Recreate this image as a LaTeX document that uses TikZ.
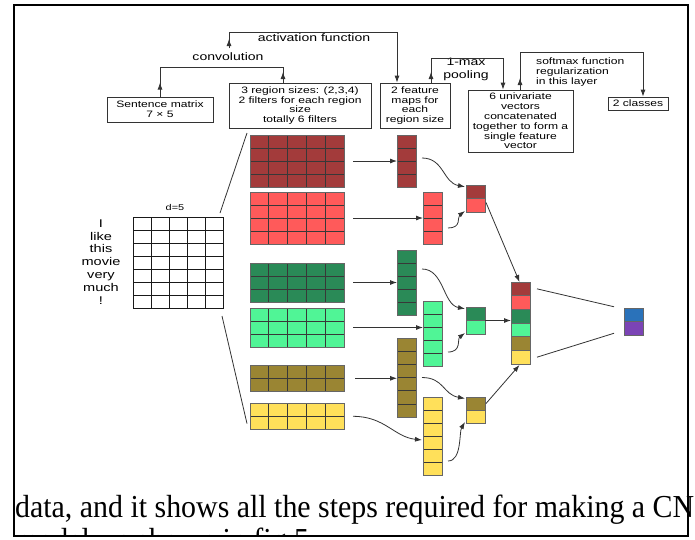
\documentclass[tikz,border=0pt]{standalone}
\usepackage{fontspec}
\usepackage{graphicx}
\usetikzlibrary{arrows.meta,calc}
\newfontfamily\labfont{Liberation Sans}[FakeStretch=1.3]
\newfontfamily\bodyfont{Liberation Serif}
\definecolor{cdred}{HTML}{A33B3B}
\definecolor{clred}{HTML}{FF5A5A}
\definecolor{cdgreen}{HTML}{2A8A57}
\definecolor{clgreen}{HTML}{50F596}
\definecolor{colive}{HTML}{9A8533}
\definecolor{cyellow}{HTML}{FFE05A}
\definecolor{cblue}{HTML}{2A72BA}
\definecolor{cpurple}{HTML}{7B44B5}
\tikzset{
  ln/.style={draw=black!80, line width=0.8pt},
  arr/.style={ln, -{Latex[length=7pt,width=5pt]}},
  labbox/.style={draw=black!80, line width=0.8pt, fill=white, align=center,
    inner sep=1pt, font={\labfont\fontsize{9.3}{9.8}\selectfont}},
  bigtext/.style={inner sep=0pt, align=center, font={\labfont\fontsize{10.8}{13}\selectfont}},
  smalltext/.style={inner sep=0pt, font={\labfont\fontsize{9.3}{10}\selectfont}},
  cellline/.style={draw=black!78, line width=0.7pt},
  blockedge/.style={draw=black!60, line width=0.8pt},
}
% a block of cols x rows cells: name, left, top, cols, rows, cell width, cell height, fill
\newcommand\cellblock[8]{%
  \node[anchor=north west, inner sep=0pt, outer sep=0pt, fill=#8,
        minimum width=#4*#6pt, minimum height=#5*#7pt] (#1) at (#2,#3) {};
  \foreach \cc in {1,...,#4}{\foreach \rr in {1,...,#5}{%
    \draw[cellline] ({#2+(\cc-1)*#6},{#3+(\rr-1)*#7}) rectangle ++(#6,#7);}}
  \draw[blockedge] (#1.north west) rectangle (#1.south east);
}
\begin{document}
\begin{tikzpicture}[x=1pt,y=-1pt]
\useasboundingbox (0,0) rectangle (695,539);
\fill[white] (0,0) rectangle (695,539);

% ---- labelled boxes along the top
\node[labbox, minimum width=106pt, minimum height=25pt] (sm) at (160,109.5) {Sentence matrix\\7 × 5};
\node[labbox, minimum width=142pt, minimum height=45pt] (rb) at (300,105.5)
  {3 region sizes: (2,3,4)\\2 filters for each region\\size\\totally 6 filters};
\node[labbox, minimum width=70pt, minimum height=45pt] (fm) at (415,105.5)
  {2 feature\\maps for\\each\\region size};
\node[labbox, minimum width=105pt, minimum height=62pt] (uv) at (520.5,121)
  {6 univariate\\vectors\\concatenated\\together to form a\\single feature\\vector};
\node[labbox, minimum width=60pt, minimum height=13pt] (cls) at (638,103.5) {2 classes};

% ---- bracket labels
\node[bigtext] (conv) at (228,57) {convolution};
\node[bigtext] (act) at (314,38) {activation function};
\node[bigtext] (pool) at (466,69.5) {1-max\\pooling};
\node[smalltext, anchor=west, align=left] (soft) at (536,72.5)
  {softmax function\\regularization\\in this layer};

% ---- bracket corners
\coordinate (cvL) at (160,67);
\coordinate (cvR) at (283,67);
\coordinate (cvB) at (283,83);
\coordinate (acB) at (229,48);
\coordinate (acL) at (229,32);
\coordinate (acR) at (397,32);
\coordinate (plB) at (431,83);
\coordinate (plL) at (431,58);
\coordinate (plR) at (503,58);
\coordinate (sfB) at (520,90);
\coordinate (sfL) at (520,52);
\coordinate (sfR) at (643,52);

% convolution bracket
\draw[ln] (sm.north) -- (cvL) -- (cvR) -- (cvB);
\draw[arr] (sm.north) -- ++(0,-14);
\draw[arr] (cvB) -- ++(0,-11);
% activation function bracket
\draw[ln] (acB) -- (acL) -- (acR);
\draw[arr] (acB) -- ++(0,-9);
\draw[arr] (acR) -- (acR |- fm.north);
% pooling bracket
\draw[ln] (plB) -- (plL) -- (plR);
\draw[arr] (plB) -- ++(0,-11);
\draw[arr] (plR) -- (plR |- uv.north);
% softmax bracket
\draw[ln] (sfB) -- (sfL) -- (sfR);
\draw[arr] (sfB) -- ++(0,-12);
\draw[arr] (sfR) -- (sfR |- cls.north);

% ---- sentence matrix
\node[inner sep=0pt, font={\labfont\fontsize{8.4}{9}\selectfont}] (dlab) at (175,207) {d=5};
\node[inner sep=0pt, align=center, font={\labfont\fontsize{11.2}{12.9}\selectfont}] (words) at (101,262)
  {I\\like\\this\\movie\\very\\much\\!};
\begin{scope}[cellline/.style={draw=black!90, line width=0.9pt}, blockedge/.style={draw=black!90, line width=0.9pt}]
\cellblock{sent}{133}{217}{5}{7}{18}{13}{white}
\end{scope}

% ---- filters
\cellblock{f1}{250}{135}{5}{4}{18.8}{13}{cdred}
\cellblock{f2}{250}{192}{5}{4}{18.8}{13}{clred}
\cellblock{f3}{250}{263}{5}{3}{18.8}{13}{cdgreen}
\cellblock{f4}{250}{308}{5}{3}{18.8}{13}{clgreen}
\cellblock{f5}{250}{365}{5}{2}{18.8}{13.3}{colive}
\cellblock{f6}{250}{403}{5}{2}{18.8}{13.3}{cyellow}

% ---- feature maps
\cellblock{m1}{397}{135}{1}{4}{19}{13}{cdred}
\cellblock{m2}{423}{192}{1}{4}{19}{13}{clred}
\cellblock{m3}{397}{250}{1}{5}{19}{13}{cdgreen}
\cellblock{m4}{423}{301}{1}{5}{19}{13}{clgreen}
\cellblock{m5}{397}{338}{1}{6}{19}{13.17}{colive}
\cellblock{m6}{423}{397}{1}{6}{19}{13}{cyellow}

% ---- pooled values
\cellblock{p1a}{466}{185}{1}{1}{19}{13.5}{cdred}
\cellblock{p1b}{466}{198.5}{1}{1}{19}{13.5}{clred}
\cellblock{p2a}{466}{307}{1}{1}{19}{13.5}{cdgreen}
\cellblock{p2b}{466}{320.5}{1}{1}{19}{13.5}{clgreen}
\cellblock{p3a}{466}{397}{1}{1}{19}{13}{colive}
\cellblock{p3b}{466}{410}{1}{1}{19}{13}{cyellow}

% ---- concatenated vector
\cellblock{c1}{511}{282}{1}{1}{19}{13.67}{cdred}
\cellblock{c2}{511}{295.67}{1}{1}{19}{13.67}{clred}
\cellblock{c3}{511}{309.33}{1}{1}{19}{13.67}{cdgreen}
\cellblock{c4}{511}{323}{1}{1}{19}{13.67}{clgreen}
\cellblock{c5}{511}{336.67}{1}{1}{19}{13.67}{colive}
\cellblock{c6}{511}{350.33}{1}{1}{19}{13.67}{cyellow}

% ---- output classes
\cellblock{o1}{624}{308}{1}{1}{19}{13.5}{cblue}
\cellblock{o2}{624}{321.5}{1}{1}{19}{13.5}{cpurple}

% ---- sentence matrix to filters
\draw[ln] ($(sent.north east)+(-3,-4)$) -- ($(f1.north west)+(-3,-2)$);
\draw[ln] ($(sent.south east)+(-1,8)$) -- ($(f6.south west)+(-3,-6)$);

% ---- filters to feature maps
\draw[arr] ($(f1.east)+(9,0)$) -- (f1.east -| m1.west);
\draw[arr] ($(f2.east)+(9,0)$) -- (f2.east -| m2.west);
\draw[arr] ($(f3.east)+(9,0)$) -- (f3.east -| m3.west);
\draw[arr] ($(f4.east)+(9,0)$) -- (f4.east -| m4.west);
\draw[arr] ($(f5.east)+(11,0)$) -- (f5.east -| m5.west);
\draw[arr] ($(f6.east)+(9,0)$) .. controls +(32,0) and +(-28,-3) .. ($(m6.west)+(-1,4)$);

% ---- feature maps to pooled values
\draw[arr] ($(m1.east)+(6,-3)$) .. controls +(22,0) and +(-22,-4) .. ($(p1a.west)+(-1,-5)$);
\draw[arr] ($(m2.east)+(6,10)$) .. controls +(14,0) and +(-8,6) .. ($(p1b.south west)+(-1,-1)$);
\draw[arr] ($(m3.east)+(6,-13.5)$) .. controls +(22,0) and +(-22,-4) .. ($(p2a.west)+(-1,-5)$);
\draw[arr] ($(m4.east)+(6,18.5)$) .. controls +(14,0) and +(-8,6) .. ($(p2b.south west)+(-1,-1)$);
\draw[arr] ($(m5.east)+(6,0)$) .. controls +(22,0) and +(-22,-4) .. ($(p3a.west)+(-1,-5)$);
\draw[arr] ($(m6.east)+(6,25)$) .. controls +(14,0) and +(-6,10) .. ($(p3b.south west)+(-1,-1)$);

% ---- pooled values to concatenated vector
\draw[arr] ($(p1b.north east)+(1,4)$) -- ($(c1.north)+(-1,0)$);
\draw[arr] (p2a.south east) -- (p2a.south east -| c3.west);
\draw[arr] ($(p3a.east)+(1,0)$) -- ($(c6.south)+(-1,1)$);

% ---- fully connected to output
\draw[ln] ($(c1.east)+(7,0)$) -- ($(o1.west)+(-10,-8)$);
\draw[ln] ($(c6.east)+(7,0)$) -- ($(o2.west)+(-10,5)$);

% ---- surrounding page text and frame
\node[anchor=base west, inner sep=0pt] (cap1) at (15,517)
  {\bodyfont\fontsize{32}{32}\selectfont\scalebox{0.934}[1]{data, and it shows all the steps required for making a CN}};
\begin{scope}
  \clip (0,0) rectangle (695,535);
  \node[anchor=base west, inner sep=0pt] (cap2) at (15,550)
    {\bodyfont\fontsize{32}{32}\selectfont\scalebox{0.934}[1]{model, as shown in fig 5}};
\end{scope}
\draw[line width=2pt] (14,5) rectangle (688,536);
\end{tikzpicture}
\end{document}
